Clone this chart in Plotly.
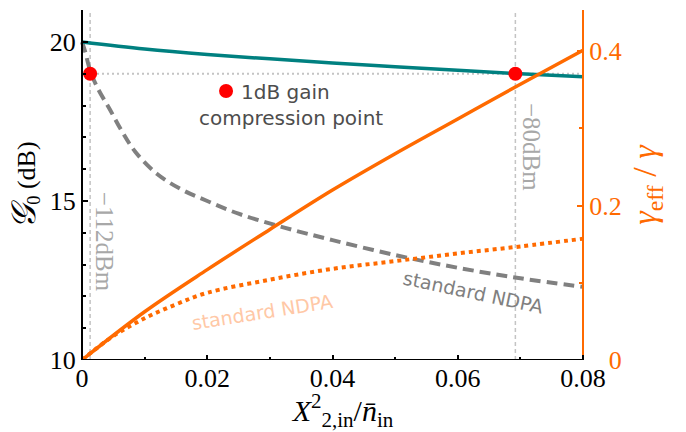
import plotly.graph_objects as go

# ---- data ----
x_teal = [0, 0.01, 0.02, 0.03, 0.04, 0.05, 0.06, 0.07, 0.08]
g_teal = [20.0, 19.78, 19.61, 19.47, 19.34, 19.22, 19.11, 19.00, 18.91]

x_std = [0, 0.0005, 0.0013, 0.0025, 0.0045, 0.0065, 0.0085, 0.012, 0.016, 0.02,
         0.025, 0.032, 0.04, 0.05, 0.06, 0.07, 0.08]
g_std = [20.0, 19.7, 19.1, 18.55, 17.86, 17.15, 16.55, 15.85, 15.35, 15.0,
         14.6, 14.18, 13.77, 13.3, 12.9, 12.57, 12.3]

x_gam = [0, 0.01, 0.02, 0.03, 0.04, 0.05, 0.06, 0.07, 0.08]
gam_new = [0, 0.0625, 0.117, 0.169, 0.220, 0.267, 0.312, 0.357, 0.401]

x_gstd = [0, 0.002, 0.005, 0.01, 0.015, 0.02, 0.03, 0.04, 0.05, 0.06, 0.07, 0.08]
gam_std = [0, 0.013, 0.031, 0.054, 0.072, 0.087, 0.104, 0.118, 0.128, 0.138, 0.147, 0.157]

comp_x = [0.0013, 0.0692]
comp_g = [19.0, 19.0]
comp_labels = ["\u2212112dBm", "\u221280dBm"]
legend_pt = [0.023, 18.46]

x_lim = [0, 0.08]
y_lim = [10, 21.006]
y2_lim = [0, 0.4531]
x_ticks = [0, 0.02, 0.04, 0.06, 0.08]
x_ticktext = ["0", "0.02", "0.04", "0.06", "0.08"]
x_minor = [0.01, 0.03, 0.05, 0.07]
y_ticks = [10, 15, 20]
y2_ticks = [0, 0.2, 0.4]
y2_ticktext = ["\u00a0\u00a0\u00a00", "0.2", "0.4"]

ORANGE = "#ff6a00"
TEAL = "#008080"
GRAY = "#808080"
LGRAY = "#c4c4c4"
SERIF = "Liberation Serif"
SANS = "DejaVu Sans"
W, H = 686, 432
PX_L, PX_R = 82, 583          # plot frame (pixels)
scale = (x_lim[1] - x_lim[0]) / (PX_R - PX_L)
x_range = [x_lim[0] - PX_L * scale, x_lim[1] + (W - PX_R) * scale]

fig = go.Figure()

fig.add_trace(go.Scatter(x=x_std, y=g_std, mode="lines", yaxis="y",
                         line=dict(color=GRAY, width=4, dash="11px,6px", shape="spline")))
fig.add_trace(go.Scatter(x=x_gstd, y=gam_std, mode="lines", yaxis="y2",
                         line=dict(color=ORANGE, width=4, dash="4px,4px", shape="spline")))
fig.add_trace(go.Scatter(x=x_gam, y=gam_new, mode="lines", yaxis="y2",
                         line=dict(color=ORANGE, width=3.5, shape="spline")))
fig.add_trace(go.Scatter(x=x_teal, y=g_teal, mode="lines", yaxis="y",
                         line=dict(color=TEAL, width=3.5, shape="spline")))
fig.add_trace(go.Scatter(x=comp_x + [legend_pt[0]], y=comp_g + [legend_pt[1]],
                         mode="markers", yaxis="y",
                         marker=dict(color="#ff0000", size=14)))

shapes = []
for cx in comp_x:
    shapes.append(dict(type="line", xref="x", yref="y", x0=cx, x1=cx, y0=y_lim[0], y1=21.0,
                       line=dict(color=LGRAY, width=1.5, dash="4px,3px"), layer="below"))
shapes.append(dict(type="line", xref="x", yref="y", x0=x_lim[0], x1=x_lim[1], y0=comp_g[0], y1=comp_g[0],
                   line=dict(color=LGRAY, width=2, dash="2px,3px"), layer="below"))
# bottom axis line of the frame
shapes.append(dict(type="line", xref="x", yref="y", x0=x_lim[0], x1=x_lim[1], y0=y_lim[0], y1=y_lim[0],
                   line=dict(color="black", width=2), layer="above"))

annotations = [
    dict(x=0.0037, y=13.71, xref="x", yref="y", text=comp_labels[0], showarrow=False,
         textangle=90, font=dict(family=SERIF, size=25, color="#a8a8a8")),
    dict(x=0.0717, y=16.70, xref="x", yref="y", text=comp_labels[1], showarrow=False,
         textangle=90, font=dict(family=SERIF, size=25, color="#a8a8a8")),
    dict(x=0.0250, y=18.44, xref="x", yref="y", text="1dB gain", showarrow=False,
         xanchor="left", font=dict(family=SANS, size=20, color="#4d4d4d")),
    dict(x=0.0333, y=17.62, xref="x", yref="y", text="compression point", showarrow=False,
         font=dict(family=SANS, size=20, color="#4d4d4d")),
    dict(x=0.0624, y=12.14, xref="x", yref="y", text="standard NDPA", showarrow=False,
         textangle=12, font=dict(family=SANS, size=19, color=GRAY)),
    dict(x=0.0287, y=11.51, xref="x", yref="y", text="standard NDPA", showarrow=False,
         textangle=-9, font=dict(family=SANS, size=19, color="#ffc8a6")),
]

fig.update_layout(
    width=W, height=H,
    margin=dict(l=0, r=0, t=10, b=72),
    paper_bgcolor="white", plot_bgcolor="white",
    showlegend=False,
    shapes=shapes, annotations=annotations,
    xaxis=dict(range=x_range, domain=[0, 1], tickvals=x_ticks, ticktext=x_ticktext,
               automargin=False,
               title=dict(text="<i>X</i><sup>2</sup><sub>2,in</sub>/<i>n\u0304</i><sub>in</sub>\u00a0\u00a0\u00a0",
                          font=dict(family=SERIF, size=30, color="black"), standoff=2),
               showgrid=False, zeroline=False, showline=False,
               ticks="inside", ticklen=5, tickwidth=1.5, tickcolor="black",
               minor=dict(tickmode="array", tickvals=x_minor, ticks="inside", ticklen=3,
                          tickcolor="black", tickwidth=1.5),
               tickfont=dict(family=SERIF, size=26, color="black")),
    yaxis=dict(range=y_lim, tickvals=y_ticks, anchor="free", position=PX_L / W,
               automargin=False,
               title=dict(text="<span style='font-size:34px'><i>\U0001D4A2</i></span><sub>0</sub> (dB)",
                          font=dict(family=SERIF, size=26, color="black"), standoff=6),
               showgrid=False, zeroline=False, showline=True, linecolor="black", linewidth=2,
               ticks="inside", ticklen=5, tickwidth=1.5, tickcolor="black",
               minor=dict(dtick=1, ticks="inside", ticklen=3, tickcolor="black", tickwidth=1.5),
               tickfont=dict(family=SERIF, size=26, color="black")),
    yaxis2=dict(range=y2_lim, overlaying="y", side="right", anchor="free", position=PX_R / W,
                automargin=False,
                title=dict(text="<i>\u03b3</i><sub>eff</sub> / <i>\u03b3</i>",
                           font=dict(family=SERIF, size=34, color=ORANGE), standoff=10),
                tickvals=y2_ticks, ticktext=y2_ticktext,
                showgrid=False, zeroline=False, showline=True, linecolor=ORANGE, linewidth=2,
                ticks="inside", ticklen=5, tickwidth=1.5, tickcolor=ORANGE,
                minor=dict(dtick=0.1, ticks="inside", ticklen=3, tickcolor=ORANGE, tickwidth=1.5),
                tickfont=dict(family=SERIF, size=26, color=ORANGE)),
)

fig.write_html("out.html")
